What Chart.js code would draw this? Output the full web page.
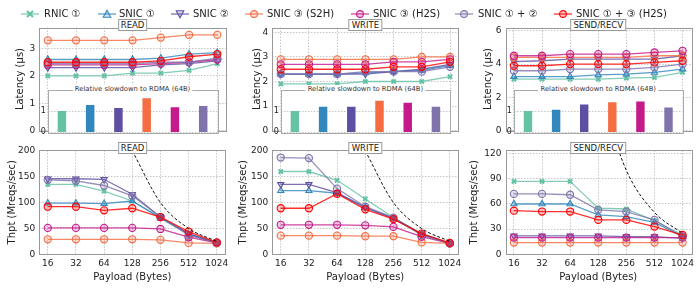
<!DOCTYPE html>
<html>
<head>
<meta charset="utf-8">
<script src="https://cdn.jsdelivr.net/npm/chart.js@4.4.1/dist/chart.umd.min.js"></script>
<style>
  body { margin: 0; background: #fff; }
  #fig { position: relative; width: 698px; height: 288px; overflow: hidden; font-family: "DejaVu Sans", sans-serif; color: #222; }
  #fig canvas { position: absolute; }
  .lg { position: absolute; top: 8px; height: 12px; font-size: 10px; line-height: 12px; white-space: nowrap; }
  .lg svg { position: absolute; top: 1px; }
  .ttl { position: absolute; height: 10px; border: 1px solid #999; background: #fff; font-size: 8.5px; line-height: 10px; padding: 0 2px; transform: translateX(-50%); white-space: nowrap; }
  .inttl { position: absolute; font-size: 6.8px; line-height: 8px; background: #fff; padding: 0 2px; transform: translate(-50%, -50%); white-space: nowrap; color: #333; }
</style>
</head>
<body>
<div id="fig"></div>
<script>
const payloads = ['16', '32', '64', '128', '256', '512', '1024'];
const seriesNames = ['RNIC ①', 'SNIC ①', 'SNIC ②', 'SNIC ③ (S2H)', 'SNIC ③ (H2S)', 'SNIC ① + ②', 'SNIC ① + ③ (H2S)'];
const barNames = seriesNames.slice(0, 6);

// latency (µs), rows in seriesNames order
const readLatency = [
  [2.0, 2.0, 2.0, 2.1, 2.1, 2.2, 2.45],
  [2.6, 2.6, 2.6, 2.6, 2.65, 2.8, 2.85],
  [2.3, 2.3, 2.3, 2.3, 2.4, 2.45, 2.55],
  [3.3, 3.3, 3.3, 3.3, 3.4, 3.5, 3.5],
  [2.4, 2.4, 2.4, 2.4, 2.45, 2.5, 2.6],
  [2.45, 2.45, 2.45, 2.45, 2.5, 2.5, 2.65],
  [2.5, 2.5, 2.5, 2.5, 2.55, 2.7, 2.8]
];
const writeLatency = [
  [1.9, 1.9, 1.9, 2.0, 2.0, 2.0, 2.2],
  [2.3, 2.3, 2.3, 2.35, 2.4, 2.45, 2.65],
  [2.3, 2.3, 2.3, 2.3, 2.4, 2.5, 2.7],
  [2.9, 2.9, 2.9, 2.9, 2.9, 3.0, 3.0],
  [2.7, 2.7, 2.7, 2.7, 2.8, 2.8, 2.9],
  [2.3, 2.3, 2.3, 2.4, 2.4, 2.4, 2.6],
  [2.5, 2.5, 2.5, 2.5, 2.6, 2.6, 2.8]
];
const sendLatency = [
  [3.1, 3.1, 3.1, 3.1, 3.15, 3.2, 3.5],
  [3.25, 3.25, 3.25, 3.35, 3.4, 3.5, 3.7],
  [4.15, 4.2, 4.3, 4.3, 4.3, 4.3, 4.5],
  [4.4, 4.4, 4.4, 4.4, 4.4, 4.5, 4.5],
  [4.5, 4.5, 4.6, 4.6, 4.6, 4.7, 4.8],
  [3.6, 3.6, 3.7, 3.7, 3.7, 3.8, 4.0],
  [3.9, 3.9, 4.0, 4.0, 4.0, 4.1, 4.2]
];

// throughput (Mreqs/sec)
const readThpt = [
  [135, 135, 122, 103, 71, 39, 22],
  [99, 99, 98, 103, 70, 39, 22],
  [146, 146, 145, 116, 72, 40, 22],
  [29, 29, 29, 29, 28, 22, 21],
  [51, 51, 51, 51, 49, 33, 22],
  [144, 142, 133, 113, 72, 37, 22],
  [92, 92, 85, 89, 72, 44, 23]
];
const writeThpt = [
  [160, 160, 143, 107, 71, 40, 21],
  [123, 123, 118, 90, 69, 39, 21],
  [135, 135, 119, 91, 70, 39, 21],
  [36, 36, 36, 35, 35, 23, 21],
  [57, 57, 57, 56, 53, 34, 21],
  [187, 186, 127, 92, 71, 37, 21],
  [89, 89, 117, 87, 68, 40, 22]
];
const sendThpt = [
  [87, 87, 87, 55, 54, 40, 23],
  [60, 60, 60, 47, 45, 38, 21],
  [22, 22, 22, 22, 21, 21, 19],
  [14, 14, 14, 14, 14, 14, 14],
  [20, 20, 20, 20, 20, 20, 20],
  [72, 72, 71, 53, 51, 41, 21],
  [52, 51, 51, 41, 41, 33, 23]
];
// dashed line-rate bound (only from 128B on)
const lineRate = [null, null, null, 200, 100, 50, 25];

// relative slowdown to RDMA (64B), first six series
const readSlowdown = [1.0, 1.29, 1.14, 1.6, 1.18, 1.24];
const writeSlowdown = [1.0, 1.2, 1.2, 1.48, 1.39, 1.2];
const sendSlowdown = [1.0, 1.06, 1.31, 1.42, 1.45, 1.17];

// tick values
const readLatTicks = [0, 1, 2, 3];
const writeLatTicks = [0, 1, 2, 3, 4];
const sendLatTicks = [0, 2, 4, 6];
const thptTicks = [0, 50, 100, 150, 200];
const sendThptTicks = [0, 30, 60, 90, 120];
const slowTicks = [0, 1];

// ---- styling ----
const FONT = 'DejaVu Sans';
const colors = ['#66c2a5', '#3288bd', '#5e4fa2', '#f46d43', '#c51b8a', '#8073ac', '#ff0000'];
const lineColors = colors.map(c => c + 'd0');
const fillColors = colors.map(c => c + '38');
const pointStyles = ['crossRot', 'triangle', 'triangle', 'circle', 'circle', 'circle', 'circle'];
const pointRots = [0, 0, 180, 0, 0, 0, 0];
const gridColor = '#b8b8b8';
const frameColor = '#999';
const fig = document.getElementById('fig');

const cols = [
  { left: 0, width: 232, plotLeft: 39.3, plotRight: 225.8, latPad: 14, thptPad: 6 },
  { left: 232, width: 233, plotLeft: 272.3, plotRight: 458.5, latPad: 19, thptPad: 5 },
  { left: 465, width: 233, plotLeft: 505.5, plotRight: 691, latPad: 17, thptPad: 3 }
];
const rowTop = { top: 16, bottom: 140, plotTop: 27.5, plotBottom: 132.3 };
const rowBot = { top: 138, bottom: 288, plotTop: 150.3, plotBottom: 254.3 };

const framePlugin = {
  id: 'frame',
  beforeDraw(chart, args, opts) {
    if (!opts.fill) return;
    const a = chart.chartArea;
    chart.ctx.save();
    chart.ctx.fillStyle = opts.fill;
    chart.ctx.fillRect(a.left, a.top, a.right - a.left, a.bottom - a.top);
    chart.ctx.restore();
  },
  afterDraw(chart, args, opts) {
    const a = chart.chartArea, ctx = chart.ctx;
    ctx.save();
    ctx.strokeStyle = opts.color || frameColor;
    ctx.lineWidth = 1;
    ctx.strokeRect(Math.round(a.left) + 0.5, Math.round(a.top) + 0.5, Math.round(a.right - a.left), Math.round(a.bottom - a.top));
    ctx.restore();
  }
};

function addCanvas(left, top, width, height) {
  const c = document.createElement('canvas');
  c.width = width; c.height = height;
  c.style.left = left + 'px'; c.style.top = top + 'px';
  c.style.width = width + 'px'; c.style.height = height + 'px';
  fig.appendChild(c);
  return c;
}

function lineChart(col, row, rows, yTicks, yMax, yTitle, titlePad, showX, bound) {
  const canvas = addCanvas(col.left, row.top, col.width, row.bottom - row.top);
  const datasets = rows.map((r, i) => ({
    label: seriesNames[i],
    data: r.map((v, j) => ({ x: j, y: v })),
    borderColor: lineColors[i],
    borderWidth: 1.3,
    pointBorderColor: colors[i],
    pointBackgroundColor: fillColors[i],
    pointStyle: pointStyles[i],
    pointRotation: pointRots[i],
    pointRadius: i === 0 ? 3 : 3.6,
    pointBorderWidth: i === 0 ? 2.1 : 1.1,
    order: -i
  }));
  if (bound) {
    datasets.push({
      data: bound.map((v, j) => ({ x: j, y: v })).filter(p => p.y !== null),
      borderColor: '#111', borderWidth: 1, borderDash: [3, 2],
      pointRadius: 0, cubicInterpolationMode: 'monotone', order: -10
    });
  }
  const gridOpts = { color: gridColor, lineWidth: 0.8, drawTicks: false };
  return new Chart(canvas, {
    type: 'line',
    data: { datasets },
    options: {
      responsive: false, animation: false, devicePixelRatio: 1,
      layout: { padding: { top: row.plotTop - row.top, right: col.left + col.width - col.plotRight, left: 0, bottom: 0 } },
      plugins: { legend: { display: false }, tooltip: { enabled: false }, frame: {} },
      scales: {
        x: {
          type: 'linear', min: -0.3, max: 6.3,
          afterBuildTicks: s => { s.ticks = payloads.map((p, j) => ({ value: j })); },
          afterFit: s => { s.height = row.bottom - row.plotBottom; },
          ticks: { display: showX, callback: v => payloads[v], font: { family: FONT, size: 9 }, color: '#222', padding: 3.5, maxRotation: 0, autoSkip: false },
          grid: gridOpts,
          border: { display: false, dash: [1.5, 1.5] },
          title: { display: showX, text: 'Payload (Bytes)', font: { family: FONT, size: 10 }, color: '#222', padding: { top: 0, bottom: 5 } }
        },
        y: {
          min: 0, max: yMax,
          afterBuildTicks: s => { s.ticks = yTicks.map(v => ({ value: v })); },
          afterFit: s => { s.width = col.plotLeft - col.left; },
          ticks: { font: { family: FONT, size: 9 }, color: '#222', padding: 4 },
          grid: gridOpts,
          border: { display: false, dash: [1.5, 1.5] },
          title: { display: true, text: yTitle, font: { family: FONT, size: 10 }, color: '#222', padding: { top: titlePad, bottom: 0 } }
        }
      }
    },
    plugins: [framePlugin]
  });
}

function insetChart(col, values) {
  const u = (col.plotRight - col.plotLeft) / 6.6;
  const left = col.plotLeft + 0.3 * u, right = col.plotLeft + 6.3 * u;
  const top = 89.3, bottom = rowTop.plotBottom;
  const cl = Math.floor(left - 12), ct = Math.floor(top - 6);
  const cw = Math.ceil(right + 4 - cl), ch = Math.ceil(bottom + 7 - ct);
  const canvas = addCanvas(cl, ct, cw, ch);
  new Chart(canvas, {
    type: 'bar',
    data: { labels: barNames, datasets: [{ data: values, backgroundColor: colors.slice(0, 6), barPercentage: 0.3, categoryPercentage: 1 }] },
    options: {
      responsive: false, animation: false, devicePixelRatio: 1,
      layout: { padding: { top: top - ct, right: cl + cw - right, bottom: ct + ch - bottom, left: 0 } },
      plugins: { legend: { display: false }, tooltip: { enabled: false }, frame: { fill: '#fff', color: '#aaa' } },
      scales: {
        x: { display: false },
        y: {
          min: 0, max: 2,
          afterBuildTicks: s => { s.ticks = slowTicks.map(v => ({ value: v })); },
          afterFit: s => { s.width = left - cl; },
          ticks: { font: { family: FONT, size: 8 }, color: '#222', padding: 2 },
          grid: { color: gridColor, lineWidth: 0.8, drawTicks: false },
          border: { display: false, dash: [1.5, 1.5] }
        }
      }
    },
    plugins: [framePlugin]
  });
  const t = document.createElement('div');
  t.className = 'inttl';
  t.textContent = 'Relative slowdown to RDMA (64B)';
  t.style.left = ((left + right) / 2) + 'px';
  t.style.top = top + 'px';
  fig.appendChild(t);
}

function panelTitle(col, row, text) {
  const d = document.createElement('div');
  d.className = 'ttl';
  d.textContent = text;
  d.style.left = ((col.plotLeft + col.plotRight) / 2) + 'px';
  d.style.top = (row.plotTop - 8.5) + 'px';
  fig.appendChild(d);
}

const panels = [
  { name: 'READ', lat: readLatency, latTicks: readLatTicks, latMax: 3.77, thpt: readThpt, thptTicks: thptTicks, thptMax: 201, slow: readSlowdown },
  { name: 'WRITE', lat: writeLatency, latTicks: writeLatTicks, latMax: 4.2, thpt: writeThpt, thptTicks: thptTicks, thptMax: 201, slow: writeSlowdown },
  { name: 'SEND/RECV', lat: sendLatency, latTicks: sendLatTicks, latMax: 6.2, thpt: sendThpt, thptTicks: sendThptTicks, thptMax: 124, slow: sendSlowdown }
];

panels.forEach((p, k) => {
  const col = cols[k];
  lineChart(col, rowTop, p.lat, p.latTicks, p.latMax, 'Latency (μs)', col.latPad, false, null);
  lineChart(col, rowBot, p.thpt, p.thptTicks, p.thptMax, 'Thpt (Mreqs/sec)', col.thptPad, true, lineRate);
  insetChart(col, p.slow);
  panelTitle(col, rowTop, p.name);
  panelTitle(col, rowBot, p.name);
});

// legend
const legendMarkX = [30, 107, 180, 254, 360, 464, 563];
const legendTextX = [44, 119, 193, 267, 373, 478, 576];
function markerSvg(i) {
  const c = colors[i], f = fillColors[i];
  let shape;
  if (i === 0) shape = `<path d="M7 2 L13 8 M13 2 L7 8" stroke="${c}" stroke-width="2.1"/>`;
  else if (i === 1) shape = `<polygon points="10,1.2 13.8,8.3 6.2,8.3" fill="${f}" stroke="${c}" stroke-width="1.1"/>`;
  else if (i === 2) shape = `<polygon points="6.2,1.7 13.8,1.7 10,8.8" fill="${f}" stroke="${c}" stroke-width="1.1"/>`;
  else shape = `<circle cx="10" cy="5" r="3.4" fill="${f}" stroke="${c}" stroke-width="1.1"/>`;
  return `<svg width="20" height="10"><line x1="1" y1="5" x2="19" y2="5" stroke="${lineColors[i]}" stroke-width="1.3"/>${shape}</svg>`;
}
seriesNames.forEach((name, i) => {
  const m = document.createElement('div');
  m.className = 'lg';
  m.style.left = (legendMarkX[i] - 10) + 'px';
  m.innerHTML = markerSvg(i);
  fig.appendChild(m);
  const t = document.createElement('div');
  t.className = 'lg';
  t.style.left = legendTextX[i] + 'px';
  t.textContent = name;
  fig.appendChild(t);
});
</script>
</body>
</html>
